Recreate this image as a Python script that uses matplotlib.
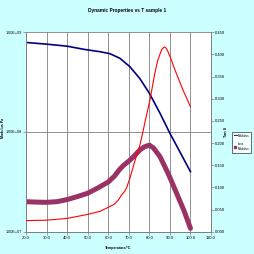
import matplotlib
matplotlib.use("Agg")
import matplotlib.pyplot as plt
from matplotlib.lines import Line2D
import numpy as np

# Storage modulus (Pa) vs temperature
temp_storage = [20, 30, 40, 48, 56, 60.8, 65.7, 70.5, 75.4, 80, 85.2, 90, 94.9, 100]
storage_mod = [7.9e8, 7.6e8, 7.25e8, 6.75e8, 6.38e8, 6.1e8, 5.48e8, 4.52e8, 3.43e8,
               2.45e8, 1.54e8, 9.7e7, 6.3e7, 4.0e7]

# Loss modulus (Pa) vs temperature
temp_loss = [20, 25, 30, 35, 40, 45, 50, 55, 60, 63, 65.5, 67.3, 70, 72.1, 75.4,
             77.5, 80, 82, 85.2, 88.3, 90, 94, 97, 100]
loss_mod = [2.0e7, 1.98e7, 1.97e7, 2.0e7, 2.1e7, 2.25e7, 2.43e7, 2.75e7, 3.15e7,
            3.6e7, 4.2e7, 4.6e7, 5.1e7, 5.6e7, 6.6e7, 7.08e7, 7.38e7, 6.92e7,
            5.65e7, 4.17e7, 3.5e7, 2.24e7, 1.6e7, 1.08e7]

# Tan delta vs temperature
temp_tan = [20, 30, 40, 50, 56, 60, 63, 65, 66.5, 68, 69, 70.5, 73, 75.4, 77,
            78, 80.3, 82.7, 84, 86, 87.3, 88.2, 89.1, 90.5, 92.5, 96.4, 100]
tan_delta = [0.025, 0.026, 0.030, 0.039, 0.046, 0.055, 0.062, 0.072, 0.083,
             0.091, 0.100, 0.120, 0.160, 0.195, 0.228, 0.250, 0.297, 0.358,
             0.385, 0.411, 0.417, 0.414, 0.406, 0.390, 0.3645, 0.3195, 0.282]

x_ticks = np.arange(20, 111, 10)
tan_ticks = np.arange(0, 0.451, 0.05)

plt.rcParams['font.family'] = ['Liberation Sans', 'DejaVu Sans']
GRID = '#808080'

fig = plt.figure(figsize=(2.54, 2.54), dpi=100, facecolor='#CCFFFF')
ax = fig.add_axes([0.1024, 0.0878, 0.7283, 0.7852])
ax.set_facecolor('white')

ax.plot(temp_storage, storage_mod, color='#000080', lw=1.2, zorder=3)
ax.plot(temp_loss, loss_mod, color='#993366', lw=3.6, solid_capstyle='round',
        solid_joinstyle='round', zorder=3)

ax.set_yscale('log')
ax.set_ylim(1e7, 1e9)
ax.set_yticks([1e7, 1e8, 1e9])
ax.set_yticklabels(['1.00E+07', '1.00E+08', '1.00E+09'])
ax.minorticks_off()
ax.set_xlim(20, 110)
ax.set_xticks(x_ticks)
ax.set_xticklabels([f'{v:.1f}' for v in x_ticks])
ax.grid(True, color=GRID, lw=0.6)

ax2 = ax.twinx()
ax2.plot(temp_tan, tan_delta, color='#FF0000', lw=0.8, zorder=4)
ax2.set_ylim(0, 0.45)
ax2.set_yticks(tan_ticks)
ax2.set_yticklabels([f'{v:.3f}' for v in tan_ticks])

for a in (ax, ax2):
    a.tick_params(labelsize=3.0, length=2, width=0.5, color=GRID, pad=1)
    a.spines['top'].set_visible(False)
    for s in ('left', 'right', 'bottom'):
        a.spines[s].set_color(GRID)
        a.spines[s].set_linewidth(0.7)
ax.tick_params(axis='y', labelsize=2.7)

fig.text(0.5, 0.957, 'Dynamic Properties vs T sample 1', ha='center', va='center',
         fontsize=3.4, fontweight='bold')
fig.text(0.465, 0.024, 'Temperature/°C', ha='center', va='center', fontsize=2.5,
         fontweight='bold')
fig.text(0.012, 0.496, 'Modulus Pa', ha='center', va='center', rotation=90,
         fontsize=2.5, fontweight='bold')
fig.text(0.89, 0.48, 'Tan δ', ha='center', va='center', rotation=90,
         fontsize=2.8, fontweight='bold')

handles = [Line2D([], [], color='#000080', lw=0.6),
           Line2D([], [], color='#993366', marker='s', linestyle='none', markersize=1.5)]
leg = fig.legend(handles, ['Modulus', 'Loss\nModulus'], loc='upper left',
                 bbox_to_anchor=(0.915, 0.4815), fontsize=2.2, frameon=True,
                 fancybox=False, handlelength=0.8, handletextpad=0.3,
                 borderpad=0.6, borderaxespad=0, labelspacing=1.6)
leg.get_frame().set_edgecolor('black')
leg.get_frame().set_linewidth(0.5)

fig.savefig('out.png', dpi=100, facecolor=fig.get_facecolor())
